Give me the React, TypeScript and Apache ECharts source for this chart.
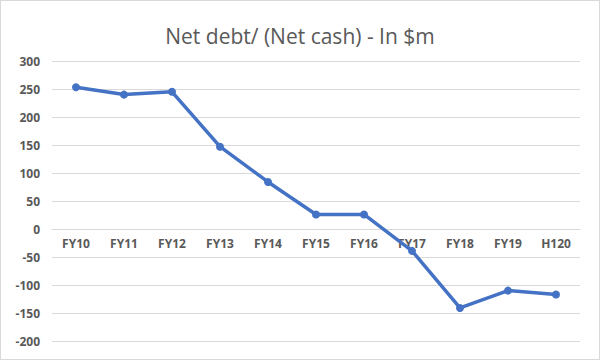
import React, { useEffect, useRef } from "react";
import * as echarts from "echarts";

const categories = ["FY10", "FY11", "FY12", "FY13", "FY14", "FY15", "FY16", "FY17", "FY18", "FY19", "H120"];
const netDebt = [253, 240, 245, 147, 84, 26, 26, -39, -141, -110, -117];
const title = "Net debt/ (Net cash) - In $m";

export default function App() {
  const ref = useRef<HTMLDivElement>(null);
  useEffect(() => {
    document.body.style.margin = "0";
    const chart = echarts.init(ref.current!, null, { renderer: "svg" });
    chart.setOption({
      animation: false,
      backgroundColor: "#ffffff",
      title: {
        text: title,
        left: "center",
        top: 19,
        textStyle: { fontFamily: "Open Sans", fontSize: 21, fontWeight: "normal", color: "#595959" },
      },
      grid: { left: 51, right: 19, top: 60, bottom: 18 },
      xAxis: {
        type: "category",
        data: categories,
        boundaryGap: true,
        offset: -112,
        axisLine: { show: true, onZero: false, lineStyle: { color: "#d9d9d9" } },
        axisTick: { show: false },
        axisLabel: { color: "#595959", fontFamily: "Open Sans", fontWeight: "bold", fontSize: 12, margin: 8 },
      },
      yAxis: {
        type: "value",
        min: -200,
        max: 300,
        interval: 50,
        axisLine: { show: false },
        axisTick: { show: false },
        splitLine: { lineStyle: { color: "#d9d9d9" } },
        axisLabel: { color: "#595959", fontFamily: "Open Sans", fontWeight: "bold", fontSize: 12, margin: 12 },
      },
      series: [
        {
          type: "line",
          data: netDebt,
          symbol: "circle",
          symbolSize: 8,
          lineStyle: { color: "#4472c4", width: 3.5 },
          itemStyle: { color: "#4472c4" },
        },
      ],
    });
    return () => chart.dispose();
  }, []);
  return (
    <div style={{ width: 600, height: 360, boxSizing: "border-box", border: "1px solid #d9d9d9" }}>
      <div ref={ref} style={{ width: 598, height: 358 }} />
    </div>
  );
}
